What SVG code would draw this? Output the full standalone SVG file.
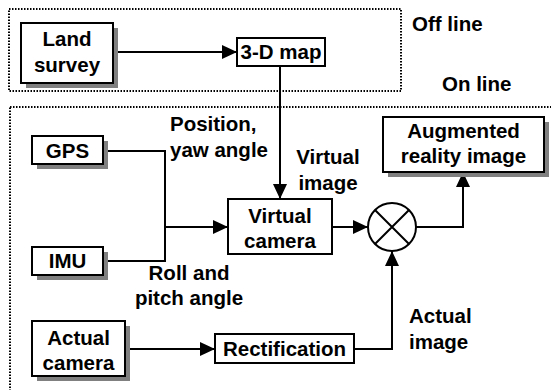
<svg xmlns="http://www.w3.org/2000/svg" width="551" height="390" viewBox="0 0 551 390">
  <defs>
    <marker id="arrow" viewBox="0 0 15 14" refX="15" refY="7" markerWidth="15" markerHeight="14" markerUnits="userSpaceOnUse" orient="auto">
      <path d="M0,0 L15,7 L0,14 Z" fill="#000"/>
    </marker>
  </defs>
  <style>
    .zone { fill: none; stroke: #000; stroke-width: 2; stroke-dasharray: 1.5 1.5; }
    .box { fill: #fff; stroke: #000; stroke-width: 2; }
    .shadow { fill: #808080; }
    .t { font-family: "Liberation Sans", Arial, sans-serif; font-weight: bold; font-size: 20.5px; fill: #000; text-anchor: middle; }
    .tl { text-anchor: start; }
    .wire { fill: none; stroke: #000; stroke-width: 2; }
    .arr { marker-end: url(#arrow); }
  </style>
  <rect width="551" height="390" fill="#fff"/>

  <!-- processing zones -->
  <g id="zone-offline">
    <rect class="zone" x="9" y="9" width="392" height="82"/>
    <text class="t tl" x="412" y="31">Off line</text>
  </g>
  <g id="zone-online">
    <rect class="zone" x="10" y="107" width="600" height="400"/>
    <text class="t tl" x="442" y="91">On line</text>
  </g>

  <!-- connectors -->
  <g id="connectors">
    <path class="wire arr" d="M113,52 H237"/>
    <path class="wire arr" d="M280,66 V199"/>
    <path class="wire" d="M103,151 H165 V261 H103"/>
    <path class="wire arr" d="M165,227 H228"/>
    <path class="wire arr" d="M332,227 H368"/>
    <path class="wire arr" d="M416,227 H463 V172"/>
    <path class="wire arr" d="M125,349 H215"/>
    <path class="wire arr" d="M354,349 H392 V251"/>
  </g>

  <!-- nodes -->
  <g id="land-survey">
    <rect class="shadow" x="26" y="28" width="92" height="60"/>
    <rect class="box" x="21" y="23" width="92" height="60"/>
    <text class="t" x="67" y="46">Land</text>
    <text class="t" x="67" y="72">survey</text>
  </g>
  <g id="map-3d">
    <rect class="box" x="237" y="38" width="88" height="28"/>
    <text class="t" x="281" y="59">3-D map</text>
  </g>
  <g id="gps">
    <rect class="shadow" x="37" y="141" width="71" height="28"/>
    <rect class="box" x="32" y="136" width="71" height="28"/>
    <text class="t" x="67.5" y="158">GPS</text>
  </g>
  <g id="imu">
    <rect class="shadow" x="37" y="252" width="71" height="28"/>
    <rect class="box" x="32" y="247" width="71" height="28"/>
    <text class="t" x="67.5" y="268">IMU</text>
  </g>
  <g id="virtual-camera">
    <rect class="box" x="228" y="199" width="104" height="55"/>
    <text class="t" x="280" y="223">Virtual</text>
    <text class="t" x="280" y="248">camera</text>
  </g>
  <g id="mixer">
    <circle cx="392" cy="227" r="24" fill="#fff" stroke="#000" stroke-width="2"/>
    <path d="M375,210 L409,244 M409,210 L375,244" stroke="#000" stroke-width="2"/>
  </g>
  <g id="ar-image">
    <rect class="shadow" x="388" y="122" width="161" height="55"/>
    <rect class="box" x="383" y="117" width="161" height="55"/>
    <text class="t" x="463.5" y="138">Augmented</text>
    <text class="t" x="463.5" y="163">reality image</text>
  </g>
  <g id="actual-camera">
    <rect class="shadow" x="37" y="326" width="93" height="55"/>
    <rect class="box" x="32" y="321" width="93" height="55"/>
    <text class="t" x="78.5" y="345">Actual</text>
    <text class="t" x="78.5" y="370">camera</text>
  </g>
  <g id="rectification">
    <rect class="box" x="215" y="334" width="139" height="29"/>
    <text class="t" x="284.5" y="356">Rectification</text>
  </g>

  <!-- signal labels -->
  <g id="labels">
    <text class="t tl" x="170" y="131">Position,</text>
    <text class="t tl" x="170" y="157">yaw angle</text>
    <text class="t" x="328" y="164">Virtual</text>
    <text class="t" x="328" y="190">image</text>
    <text class="t" x="189" y="280">Roll and</text>
    <text class="t" x="189" y="305">pitch angle</text>
    <text class="t tl" x="409" y="323">Actual</text>
    <text class="t tl" x="409" y="349">image</text>
  </g>
</svg>
